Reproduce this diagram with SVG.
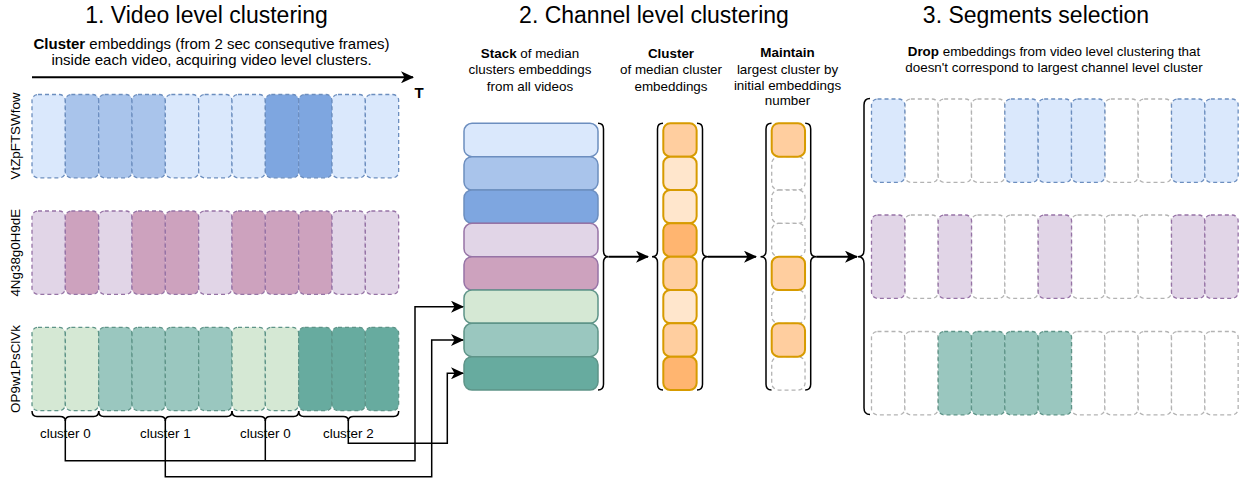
<svg xmlns="http://www.w3.org/2000/svg" width="1239" height="479" viewBox="0 0 1239 479">
<defs>
<style>
text{font-family:"Liberation Sans",Arial,Helvetica,sans-serif;fill:#000}
.title{font-size:23px;text-anchor:middle}
.sub{font-size:15px;text-anchor:middle}
.desc{font-size:13.4px;text-anchor:middle}
.lbl{font-size:13.4px;text-anchor:middle}
.c{stroke-width:1.3;stroke-dasharray:4 3}
.b{stroke:#6c8ebf}
.p{stroke:#9673a6}
.g{stroke:#5e9488}
.bl{fill:#dae8fc}.bm{fill:#a9c4eb}.bd{fill:#7ea6e0}
.pl{fill:#e1d5e7}.pd{fill:#cda2be}
.gl{fill:#d5e8d4}.gm{fill:#9ac7bf}.gd{fill:#67ab9f}
.e{fill:#fff;stroke:#b3b3b3}
.s{stroke-width:1.5}
.o{stroke:#d79b00;stroke-width:2}
.o1{fill:#ffce9f}.o2{fill:#ffe6cc}.o3{fill:#ffb570}
.brace{fill:none;stroke:#000;stroke-width:1.5}
.ln{fill:none;stroke:#000;stroke-width:1.5}
.ar{fill:none;stroke:#000;stroke-width:2}
</style>
<marker id="ah" markerUnits="userSpaceOnUse" markerWidth="14" markerHeight="12" refX="12" refY="6" orient="auto">
<path d="M0,0 L13,6 L0,12 L3.5,6 Z" fill="#000"/>
</marker>
</defs>
<rect width="1239" height="479" fill="#fff"/>

<g id="titles">
<text class="title" x="206.5" y="23">1. Video level clustering</text>
<text class="title" x="654" y="23">2. Channel level clustering</text>
<text class="title" x="1036" y="23">3. Segments selection</text>
</g>

<g id="desc1">
<text class="sub" x="211.5" y="48.5"><tspan font-weight="bold">Cluster</tspan> embeddings (from 2 sec consequtive frames)</text>
<text class="sub" x="211.5" y="64.5">inside each video, acquiring video level clusters.</text>
<text x="419" y="98" font-size="15" font-weight="bold" text-anchor="middle">T</text>
</g>

<g id="desc-stack">
<text class="desc" x="530" y="57.5"><tspan font-weight="bold">Stack</tspan> of median</text>
<text class="desc" x="530" y="74">clusters embeddings</text>
<text class="desc" x="530" y="90.5">from all videos</text>
</g>
<g id="desc-cluster">
<text class="desc" x="671" y="57.5" font-weight="bold">Cluster</text>
<text class="desc" x="671" y="74">of median cluster</text>
<text class="desc" x="671" y="90.5">embeddings</text>
</g>
<g id="desc-maintain">
<text class="desc" x="787.5" y="57" font-weight="bold">Maintain</text>
<text class="desc" x="787.5" y="73.5">largest cluster by</text>
<text class="desc" x="787.5" y="89.5">initial embeddings</text>
<text class="desc" x="787.5" y="105">number</text>
</g>
<g id="desc3">
<text class="desc" x="1054" y="56"><tspan font-weight="bold">Drop</tspan> embeddings from video level clustering that</text>
<text class="desc" x="1054" y="72">doesn't correspond to largest channel level cluster</text>
</g>

<g id="video-labels">
<text class="lbl" transform="translate(19.5,136) rotate(-90)">VtZpFTSWfow</text>
<text class="lbl" transform="translate(19.5,252.7) rotate(-90)">4Ng38g0H9dE</text>
<text class="lbl" transform="translate(19.5,369) rotate(-90)">OP9w1PsClVk</text>
</g>

<g id="video1">
<rect class="c b bl" x="32" y="94.5" width="33.33" height="83.33" rx="6"/>
<rect class="c b bm" x="65.33" y="94.5" width="33.33" height="83.33" rx="6"/>
<rect class="c b bm" x="98.67" y="94.5" width="33.33" height="83.33" rx="6"/>
<rect class="c b bm" x="132" y="94.5" width="33.33" height="83.33" rx="6"/>
<rect class="c b bl" x="165.33" y="94.5" width="33.33" height="83.33" rx="6"/>
<rect class="c b bl" x="198.67" y="94.5" width="33.33" height="83.33" rx="6"/>
<rect class="c b bl" x="232" y="94.5" width="33.33" height="83.33" rx="6"/>
<rect class="c b bd" x="265.33" y="94.5" width="33.33" height="83.33" rx="6"/>
<rect class="c b bd" x="298.67" y="94.5" width="33.33" height="83.33" rx="6"/>
<rect class="c b bl" x="332" y="94.5" width="33.33" height="83.33" rx="6"/>
<rect class="c b bl" x="365.33" y="94.5" width="33.33" height="83.33" rx="6"/>
</g>
<g id="video2">
<rect class="c p pl" x="32" y="211" width="33.33" height="83.33" rx="6"/>
<rect class="c p pd" x="65.33" y="211" width="33.33" height="83.33" rx="6"/>
<rect class="c p pl" x="98.67" y="211" width="33.33" height="83.33" rx="6"/>
<rect class="c p pd" x="132" y="211" width="33.33" height="83.33" rx="6"/>
<rect class="c p pd" x="165.33" y="211" width="33.33" height="83.33" rx="6"/>
<rect class="c p pl" x="198.67" y="211" width="33.33" height="83.33" rx="6"/>
<rect class="c p pd" x="232" y="211" width="33.33" height="83.33" rx="6"/>
<rect class="c p pd" x="265.33" y="211" width="33.33" height="83.33" rx="6"/>
<rect class="c p pd" x="298.67" y="211" width="33.33" height="83.33" rx="6"/>
<rect class="c p pl" x="332" y="211" width="33.33" height="83.33" rx="6"/>
<rect class="c p pl" x="365.33" y="211" width="33.33" height="83.33" rx="6"/>
</g>
<g id="video3">
<rect class="c g gl" x="32" y="327.3" width="33.33" height="83.33" rx="6"/>
<rect class="c g gl" x="65.33" y="327.3" width="33.33" height="83.33" rx="6"/>
<rect class="c g gm" x="98.67" y="327.3" width="33.33" height="83.33" rx="6"/>
<rect class="c g gm" x="132" y="327.3" width="33.33" height="83.33" rx="6"/>
<rect class="c g gm" x="165.33" y="327.3" width="33.33" height="83.33" rx="6"/>
<rect class="c g gm" x="198.67" y="327.3" width="33.33" height="83.33" rx="6"/>
<rect class="c g gl" x="232" y="327.3" width="33.33" height="83.33" rx="6"/>
<rect class="c g gl" x="265.33" y="327.3" width="33.33" height="83.33" rx="6"/>
<rect class="c g gd" x="298.67" y="327.3" width="33.33" height="83.33" rx="6"/>
<rect class="c g gd" x="332" y="327.3" width="33.33" height="83.33" rx="6"/>
<rect class="c g gd" x="365.33" y="327.3" width="33.33" height="83.33" rx="6"/>
</g>

<g id="cluster-braces">
<path class="brace" d="M32,411 Q32,416.5 37,416.5 L60,416.5 Q65.3,416.5 65.3,421 Q65.3,416.5 70.6,416.5 L93.7,416.5 Q98.7,416.5 98.7,411"/>
<path class="brace" d="M98.7,411 Q98.7,416.5 103.7,416.5 L160.3,416.5 Q165.3,416.5 165.3,421 Q165.3,416.5 170.3,416.5 L227,416.5 Q232,416.5 232,411"/>
<path class="brace" d="M232,411 Q232,416.5 237,416.5 L260.3,416.5 Q265.3,416.5 265.3,421 Q265.3,416.5 270.3,416.5 L293.7,416.5 Q298.7,416.5 298.7,411"/>
<path class="brace" d="M298.7,411 Q298.7,416.5 303.7,416.5 L343.3,416.5 Q348.3,416.5 348.3,421 Q348.3,416.5 353.3,416.5 L393.7,416.5 Q398.7,416.5 398.7,411"/>
<text class="lbl" x="65.3" y="437.5">cluster 0</text>
<text class="lbl" x="165.3" y="437.5">cluster 1</text>
<text class="lbl" x="265.3" y="437.5">cluster 0</text>
<text class="lbl" x="348.3" y="437.5">cluster 2</text>
</g>

<g id="stack">
<rect class="s b bl" x="464" y="123.3" width="134" height="33.33" rx="8"/>
<rect class="s b bm" x="464" y="156.7" width="134" height="33.33" rx="8"/>
<rect class="s b bd" x="464" y="190" width="134" height="33.33" rx="8"/>
<rect class="s p pl" x="464" y="223.3" width="134" height="33.33" rx="8"/>
<rect class="s p pd" x="464" y="256.7" width="134" height="33.33" rx="8"/>
<rect class="s g gl" x="464" y="290" width="134" height="33.33" rx="8"/>
<rect class="s g gm" x="464" y="323.3" width="134" height="33.33" rx="8"/>
<rect class="s g gd" x="464" y="356.7" width="134" height="33.33" rx="8"/>
<path class="brace" d="M598,123.3 Q603.5,123.3 603.5,129 L603.5,251 Q603.5,256.7 608.5,256.7 Q603.5,256.7 603.5,262.4 L603.5,384.3 Q603.5,390 598,390"/>
</g>

<g id="cluster-col">
<path class="brace" d="M663,123.3 Q657.5,123.3 657.5,129 L657.5,251 Q657.5,256.7 652,256.7 Q657.5,256.7 657.5,262.4 L657.5,384.3 Q657.5,390 663,390"/>
<rect class="o o1" x="663.3" y="123.3" width="33.33" height="33.33" rx="7"/>
<rect class="o o2" x="663.3" y="156.7" width="33.33" height="33.33" rx="7"/>
<rect class="o o2" x="663.3" y="190" width="33.33" height="33.33" rx="7"/>
<rect class="o o3" x="663.3" y="223.3" width="33.33" height="33.33" rx="7"/>
<rect class="o o1" x="663.3" y="256.7" width="33.33" height="33.33" rx="7"/>
<rect class="o o2" x="663.3" y="290" width="33.33" height="33.33" rx="7"/>
<rect class="o o1" x="663.3" y="323.3" width="33.33" height="33.33" rx="7"/>
<rect class="o o3" x="663.3" y="356.7" width="33.33" height="33.33" rx="7"/>
<path class="brace" d="M697,123.3 Q702.5,123.3 702.5,129 L702.5,251 Q702.5,256.7 708,256.7 Q702.5,256.7 702.5,262.4 L702.5,384.3 Q702.5,390 697,390"/>
</g>

<g id="maintain-col">
<path class="brace" d="M771.5,123.3 Q766,123.3 766,129 L766,251 Q766,256.7 760.5,256.7 Q766,256.7 766,262.4 L766,384.3 Q766,390 771.5,390"/>
<rect class="c e" x="771.7" y="156.7" width="33.33" height="33.33" rx="7"/>
<rect class="c e" x="771.7" y="190" width="33.33" height="33.33" rx="7"/>
<rect class="c e" x="771.7" y="223.3" width="33.33" height="33.33" rx="7"/>
<rect class="c e" x="771.7" y="290" width="33.33" height="33.33" rx="7"/>
<rect class="c e" x="771.7" y="356.7" width="33.33" height="33.33" rx="7"/>
<rect class="o o1" x="771.7" y="123.3" width="33.33" height="33.33" rx="7"/>
<rect class="o o1" x="771.7" y="256.7" width="33.33" height="33.33" rx="7"/>
<rect class="o o1" x="771.7" y="323.3" width="33.33" height="33.33" rx="7"/>
<path class="brace" d="M805.2,123.3 Q810.7,123.3 810.7,129 L810.7,251 Q810.7,256.7 816.2,256.7 Q810.7,256.7 810.7,262.4 L810.7,384.3 Q810.7,390 805.2,390"/>
</g>

<g id="selection">
<path class="brace" d="M870,98.5 Q864,98.5 864,105 L864,250 Q864,256.7 858,256.7 Q864,256.7 864,263.4 L864,408 Q864,414.5 870,414.5"/>
<g id="sel1">
<rect class="c e" x="904.83" y="99" width="33.33" height="83.33" rx="6"/>
<rect class="c e" x="938.17" y="99" width="33.33" height="83.33" rx="6"/>
<rect class="c e" x="971.5" y="99" width="33.33" height="83.33" rx="6"/>
<rect class="c e" x="1104.83" y="99" width="33.33" height="83.33" rx="6"/>
<rect class="c e" x="1138.17" y="99" width="33.33" height="83.33" rx="6"/>
<rect class="c b bl" x="871.5" y="99" width="33.33" height="83.33" rx="6"/>
<rect class="c b bl" x="1004.83" y="99" width="33.33" height="83.33" rx="6"/>
<rect class="c b bl" x="1038.17" y="99" width="33.33" height="83.33" rx="6"/>
<rect class="c b bl" x="1071.5" y="99" width="33.33" height="83.33" rx="6"/>
<rect class="c b bl" x="1171.5" y="99" width="33.33" height="83.33" rx="6"/>
<rect class="c b bl" x="1204.83" y="99" width="33.33" height="83.33" rx="6"/>
</g>
<g id="sel2">
<rect class="c e" x="904.83" y="215" width="33.33" height="83.33" rx="6"/>
<rect class="c e" x="971.5" y="215" width="33.33" height="83.33" rx="6"/>
<rect class="c e" x="1004.83" y="215" width="33.33" height="83.33" rx="6"/>
<rect class="c e" x="1071.5" y="215" width="33.33" height="83.33" rx="6"/>
<rect class="c e" x="1104.83" y="215" width="33.33" height="83.33" rx="6"/>
<rect class="c e" x="1138.17" y="215" width="33.33" height="83.33" rx="6"/>
<rect class="c p pl" x="871.5" y="215" width="33.33" height="83.33" rx="6"/>
<rect class="c p pl" x="938.17" y="215" width="33.33" height="83.33" rx="6"/>
<rect class="c p pl" x="1038.17" y="215" width="33.33" height="83.33" rx="6"/>
<rect class="c p pl" x="1171.5" y="215" width="33.33" height="83.33" rx="6"/>
<rect class="c p pl" x="1204.83" y="215" width="33.33" height="83.33" rx="6"/>
</g>
<g id="sel3">
<rect class="c e" x="871.5" y="331.5" width="33.33" height="83.33" rx="6"/>
<rect class="c e" x="904.83" y="331.5" width="33.33" height="83.33" rx="6"/>
<rect class="c e" x="1071.5" y="331.5" width="33.33" height="83.33" rx="6"/>
<rect class="c e" x="1104.83" y="331.5" width="33.33" height="83.33" rx="6"/>
<rect class="c e" x="1138.17" y="331.5" width="33.33" height="83.33" rx="6"/>
<rect class="c e" x="1171.5" y="331.5" width="33.33" height="83.33" rx="6"/>
<rect class="c e" x="1204.83" y="331.5" width="33.33" height="83.33" rx="6"/>
<rect class="c g gm" x="938.17" y="331.5" width="33.33" height="83.33" rx="6"/>
<rect class="c g gm" x="971.5" y="331.5" width="33.33" height="83.33" rx="6"/>
<rect class="c g gm" x="1004.83" y="331.5" width="33.33" height="83.33" rx="6"/>
<rect class="c g gm" x="1038.17" y="331.5" width="33.33" height="83.33" rx="6"/>
</g>
</g>

<g id="connectors">
<path class="ar" d="M32,77.3 H413" marker-end="url(#ah)"/>
<path class="ln" d="M65.3,420 V460.7 H415 V306.7 H463" marker-end="url(#ah)"/>
<path class="ln" d="M265.3,420 V460.7"/>
<path class="ln" d="M165.3,420 V476.7 H431.7 V340 H463" marker-end="url(#ah)"/>
<path class="ln" d="M348.3,420 V443.3 H447.3 V373.3 H463" marker-end="url(#ah)"/>
<path class="ar" d="M608.5,256.7 H648" marker-end="url(#ah)"/>
<path class="ar" d="M708,256.7 H756" marker-end="url(#ah)"/>
<path class="ar" d="M816.2,256.7 H857" marker-end="url(#ah)"/>
</g>
</svg>
